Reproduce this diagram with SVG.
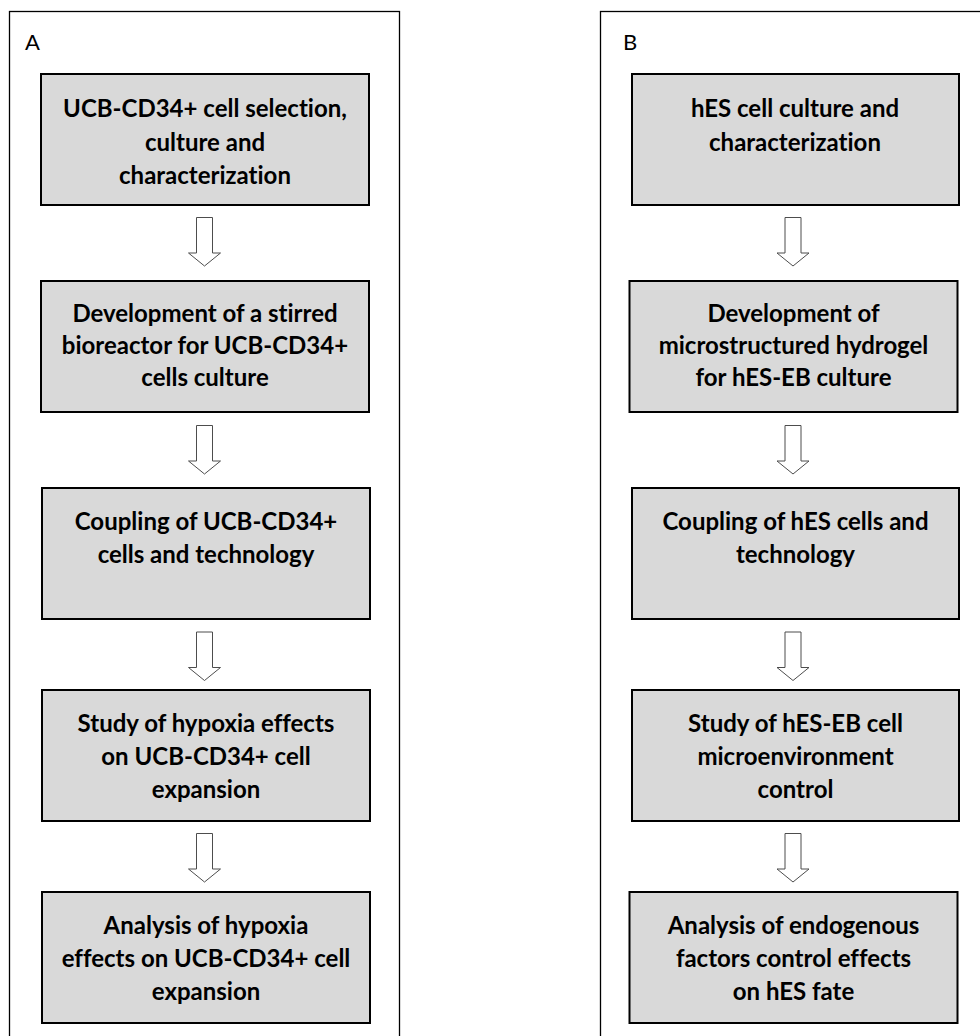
<svg xmlns="http://www.w3.org/2000/svg" width="980" height="1036" viewBox="0 0 980 1036">
  <defs>
    <style>
      .frame { fill: #ffffff; stroke: #000000; stroke-width: 1.3; }
      .box { fill: #d9d9d9; stroke: #000000; stroke-width: 2; }
      .lbl { font-family: Lato, "Open Sans", "Liberation Sans", sans-serif; font-weight: bold; font-size: 24px; fill: #000000; text-anchor: middle; font-variant-ligatures: none; }
      .panel { font-family: Lato, "Open Sans", "Liberation Sans", sans-serif; font-size: 22px; fill: #000000; }
      .arrow { fill: #ffffff; stroke: #4d4d4d; stroke-width: 1; stroke-linejoin: miter; }
    </style>
  </defs>
  <rect x="0" y="0" width="980" height="1036" fill="#ffffff"/>

  <g id="panel-A">
    <rect class="frame" x="9.5" y="11.5" width="390" height="1040"/>
    <text class="panel" x="25" y="50">A</text>
  </g>
  <g id="panel-B">
    <rect class="frame" x="600.5" y="11.5" width="400" height="1040"/>
    <text class="panel" x="623" y="50">B</text>
  </g>

  <g id="connectors">
    <path class="arrow" d="M196.5,217.5 H212.5 V253 H220.5 L204.5,266 L188.5,253 H196.5 Z"/>
    <path class="arrow" d="M196.5,425.5 H212.5 V461 H220.5 L204.5,474 L188.5,461 H196.5 Z"/>
    <path class="arrow" d="M196.5,632 H212.5 V667.5 H220.5 L204.5,680.5 L188.5,667.5 H196.5 Z"/>
    <path class="arrow" d="M196.5,833.5 H212.5 V869 H220.5 L204.5,882 L188.5,869 H196.5 Z"/>

    <path class="arrow" d="M785,217.5 H801 V253 H809 L793,266 L777,253 H785 Z"/>
    <path class="arrow" d="M785,425.5 H801 V461 H809 L793,474 L777,461 H785 Z"/>
    <path class="arrow" d="M785,632 H801 V667.5 H809 L793,680.5 L777,667.5 H785 Z"/>
    <path class="arrow" d="M785,833.5 H801 V869 H809 L793,882 L777,869 H785 Z"/>
  </g>

  <g id="A1">
    <rect class="box" x="41" y="74" width="328" height="131"/>
    <text class="lbl" x="205" y="117">UCB-CD34+ cell selection,</text>
    <text class="lbl" x="205" y="150.5">culture and</text>
    <text class="lbl" x="205" y="184">characterization</text>
  </g>
  <g id="A2">
    <rect class="box" x="41" y="281" width="328" height="131"/>
    <text class="lbl" x="205" y="322">Development of a stirred</text>
    <text class="lbl" x="205" y="354">bioreactor for UCB-CD34+</text>
    <text class="lbl" x="205" y="386">cells culture</text>
  </g>
  <g id="A3">
    <rect class="box" x="42" y="488" width="328" height="131"/>
    <text class="lbl" x="206" y="530">Coupling of UCB-CD34+</text>
    <text class="lbl" x="206" y="563">cells and technology</text>
  </g>
  <g id="A4">
    <rect class="box" x="42" y="690" width="328" height="131"/>
    <text class="lbl" x="206" y="732">Study of hypoxia effects</text>
    <text class="lbl" x="206" y="765">on UCB-CD34+ cell</text>
    <text class="lbl" x="206" y="798">expansion</text>
  </g>
  <g id="A5">
    <rect class="box" x="42" y="892" width="328" height="131"/>
    <text class="lbl" x="206" y="934">Analysis of hypoxia</text>
    <text class="lbl" x="206" y="967">effects on UCB-CD34+ cell</text>
    <text class="lbl" x="206" y="1000">expansion</text>
  </g>

  <g id="B1">
    <rect class="box" x="632" y="74" width="327" height="131"/>
    <text class="lbl" x="795" y="117">hES cell culture and</text>
    <text class="lbl" x="795" y="150.5">characterization</text>
  </g>
  <g id="B2">
    <rect class="box" x="629.5" y="281" width="328" height="131"/>
    <text class="lbl" x="793.5" y="322">Development of</text>
    <text class="lbl" x="793.5" y="354">microstructured hydrogel</text>
    <text class="lbl" x="793.5" y="386">for hES-EB culture</text>
  </g>
  <g id="B3">
    <rect class="box" x="632" y="488" width="327" height="131"/>
    <text class="lbl" x="795.5" y="530">Coupling of hES cells and</text>
    <text class="lbl" x="795.5" y="563">technology</text>
  </g>
  <g id="B4">
    <rect class="box" x="632" y="690" width="327" height="131"/>
    <text class="lbl" x="795.5" y="732">Study of hES-EB cell</text>
    <text class="lbl" x="795.5" y="765">microenvironment</text>
    <text class="lbl" x="795.5" y="798">control</text>
  </g>
  <g id="B5">
    <rect class="box" x="629.5" y="892" width="328" height="131"/>
    <text class="lbl" x="793.5" y="934">Analysis of endogenous</text>
    <text class="lbl" x="793.5" y="967">factors control effects</text>
    <text class="lbl" x="793.5" y="1000">on hES fate</text>
  </g>
</svg>
